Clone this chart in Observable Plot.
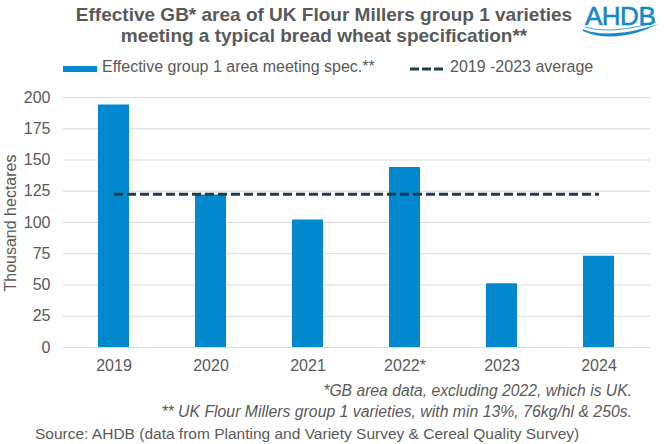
<!DOCTYPE html>
<html>
<head>
<meta charset="utf-8">
<script src="https://cdn.jsdelivr.net/npm/d3@7"></script>
<script src="https://cdn.jsdelivr.net/npm/@observablehq/plot@0.6"></script>
<style>
  html, body { margin: 0; padding: 0; background: #ffffff; }
  #page { position: relative; width: 667px; height: 444px; overflow: hidden; background: #ffffff;
          font-family: "Liberation Sans", Arial, sans-serif; color: #595959; }
  .t { position: absolute; white-space: nowrap; }
  #chart { position: absolute; left: 0; top: 80px; }
</style>
</head>
<body>
<div id="page">
  <div id="chart"></div>
</div>
<script>
// ---- data ----
const years = ["2019", "2020", "2021", "2022*", "2023", "2024"];
const area = [194, 122, 102, 144, 51, 73];           // thousand hectares
const averageValue = 122.6;                           // 2019-2023 average
const yTicks = [0, 25, 50, 75, 100, 125, 150, 175, 200];

const titleLines = [
  "Effective GB* area of UK Flour Millers group 1 varieties",
  "meeting a typical bread wheat specification**"
];
const legendLabels = ["Effective group 1 area meeting spec.**", "2019 -2023 average"];
const yLabel = "Thousand hectares";
const footnotes = [
  "*GB area data, excluding 2022, which is UK.",
  "** UK Flour Millers group 1 varieties, with min 13%, 76kg/hl & 250s."
];
const source = "Source: AHDB (data from Planting and Variety Survey & Cereal Quality Survey)";

const BAR = "#0288CE";
const DARK = "#1F3C48";

// ---- tables built from arrays ----
const bars = years.map((year, i) => ({year, area: area[i]}));
const avgLine = years.map(year => ({year, avg: averageValue}));

// ---- chart ----
const chart = Plot.plot({
  width: 667,
  height: 300,
  marginTop: 17,
  marginBottom: 33,
  marginLeft: 63,
  marginRight: 17,
  style: {fontFamily: '"Liberation Sans", Arial, sans-serif', fontSize: "16px", color: "#595959", background: "transparent"},
  x: {domain: years, paddingInner: 0.68, paddingOuter: 0.34, label: null},
  y: {domain: [0, 200], label: null},
  marks: [
    Plot.gridY(yTicks, {stroke: "#d9d9d9", strokeOpacity: 1, strokeWidth: 1}),
    Plot.barY(bars, {x: "year", y: "area", fill: BAR}),
    Plot.lineY(avgLine, {x: "year", y: "avg", stroke: DARK, strokeWidth: 3, strokeDasharray: "9,4", strokeLinecap: "butt"}),
    Plot.axisX({tickSize: 0, tickPadding: 12, fontSize: 16, label: null}),
    Plot.axisY(yTicks, {tickSize: 0, tickPadding: 13, fontSize: 16, label: null})
  ]
});
document.getElementById("chart").appendChild(chart);

// ---- surrounding text ----
const page = document.getElementById("page");
function placeText(text, o) {
  const d = document.createElement("div");
  d.className = "t";
  d.textContent = text;
  const F = o.size;
  d.style.fontSize = F + "px";
  d.style.lineHeight = F + "px";
  d.style.top = (o.baseline - 0.8465 * F) + "px";
  if (o.weight) d.style.fontWeight = o.weight;
  if (o.style) d.style.fontStyle = o.style;
  if (o.color) d.style.color = o.color;
  if (o.anchor === "end") { d.style.right = (667 - o.x) + "px"; }
  else if (o.anchor === "middle") { d.style.left = o.x + "px"; d.style.transform = "translateX(-50%)"; }
  else { d.style.left = o.x + "px"; }
  page.appendChild(d);
  return d;
}

placeText(titleLines[0], {x: 324, baseline: 21, size: 19, weight: "bold", anchor: "middle"});
placeText(titleLines[1], {x: 324, baseline: 42, size: 19, weight: "bold", anchor: "middle"});

// legend
const sw = document.createElement("div");
Object.assign(sw.style, {position: "absolute", left: "63px", top: "66px", width: "34px", height: "6px", background: BAR});
page.appendChild(sw);
placeText(legendLabels[0], {x: 102, baseline: 73, size: 16});
const ds = document.createElementNS("http://www.w3.org/2000/svg", "svg");
ds.setAttribute("width", 34); ds.setAttribute("height", 6);
Object.assign(ds.style, {position: "absolute", left: "410px", top: "66px"});
ds.innerHTML = `<line x1="0" x2="33" y1="3" y2="3" stroke="${DARK}" stroke-width="3" stroke-dasharray="9,3"/>`;
page.appendChild(ds);
placeText(legendLabels[1], {x: 450, baseline: 73, size: 16});

// y label (rotated)
const yl = document.createElement("div");
yl.className = "t";
yl.textContent = yLabel;
Object.assign(yl.style, {fontSize: "16px", lineHeight: "16px", left: "11px", top: "223px",
  transform: "translate(-50%, -50%) rotate(-90deg)"});
page.appendChild(yl);

// footnotes
placeText(footnotes[0], {x: 632, baseline: 396, size: 15.7, style: "italic", anchor: "end"});
placeText(footnotes[1], {x: 632, baseline: 417, size: 15.8, style: "italic", anchor: "end"});
placeText(source, {x: 35, baseline: 439, size: 15.5});

// logo
const logo = placeText("AHDB", {x: 585, baseline: 25, size: 26, color: "#1689CB"});
logo.style.letterSpacing = "-0.5px";
logo.style.webkitTextStroke = "0.6px #1689CB";
const wave = document.createElementNS("http://www.w3.org/2000/svg", "svg");
wave.setAttribute("width", 90); wave.setAttribute("height", 20);
Object.assign(wave.style, {position: "absolute", left: "576px", top: "20px"});
wave.innerHTML = `<path d="M7,9 C22,16 50,15 82,4 C62,15 30,22 7,11 Z" fill="#1689CB"/>
<path d="M9,7 C25,12 50,11 80,2" fill="none" stroke="#1689CB" stroke-width="0.8"/>`;
page.appendChild(wave);
</script>
</body>
</html>
